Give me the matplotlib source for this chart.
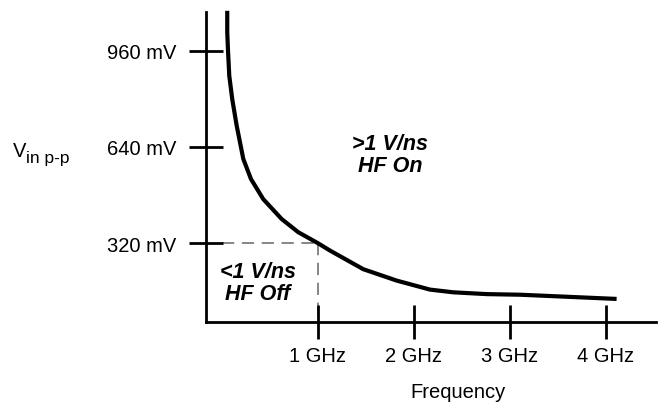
import matplotlib.pyplot as plt
import numpy as np

plt.rcParams['font.family'] = ['Liberation Sans', 'DejaVu Sans']

# curve (GHz, mV)
freq_ghz = [0.059, 0.059, 0.067, 0.080, 0.111, 0.157, 0.226, 0.306, 0.434,
            0.625, 0.798, 1.0, 1.128, 1.474, 1.822, 2.169, 2.411, 2.759,
            3.105, 4.11]
vin_mv = [1093, 1022, 960, 877, 799, 711, 600, 533, 466,
          400, 356, 320, 295, 233, 195, 165, 156, 150,
          148, 134]

x_ticks = [1, 2, 3, 4]
x_labels = ['1 GHz', '2 GHz', '3 GHz', '4 GHz']
y_ticks = [320, 640, 960]
y_labels = ['320 mV', '640 mV', '960 mV']

threshold_f = 1.0
threshold_v = 320

fig = plt.figure(figsize=(6.6, 4.06), dpi=100)
ax = fig.add_axes([206/660, 83/406, 450/660, 310/406])

ax.plot(freq_ghz, vin_mv, color='black', lw=3, solid_capstyle='butt',
        solid_joinstyle='round', clip_on=False, zorder=3)

# dashed guide lines to the threshold point
ax.plot([0, threshold_f], [threshold_v, threshold_v], color='#666666', lw=1.1,
        dashes=(8, 5), zorder=1)
ax.plot([threshold_f, threshold_f], [threshold_v, 57], color='#666666', lw=1.1,
        dashes=(8, 5), zorder=1)

ax.set_xlim(-0.162, 4.52)
ax.set_ylim(57.2, 1089)

for s in ['top', 'right']:
    ax.spines[s].set_visible(False)
for s in ['left', 'bottom']:
    ax.spines[s].set_linewidth(2)

ax.set_xticks(x_ticks)
ax.set_xticklabels(x_labels)
ax.set_yticks(y_ticks)
ax.set_yticklabels(y_labels)
ax.tick_params(direction='inout', length=24, width=2, labelsize=14.5)
ax.tick_params(axis='x', pad=5.5)
ax.tick_params(axis='y', pad=9.5)

ax.text(0.374, 190, '<1 V/ns\nHF Off', ha='center', va='center', fontsize=15.5,
        fontweight='bold', fontstyle='italic', linespacing=1.05)
ax.text(1.75, 616, '>1 V/ns\nHF On', ha='center', va='center', fontsize=15.5,
        fontweight='bold', fontstyle='italic', linespacing=1.05)

fig.text(458/660, 1 - 393/406, 'Frequency', ha='center', va='center', fontsize=14.5)
fig.text(13/660, 1 - 157/406, 'V', ha='left', va='baseline', fontsize=14.5)
fig.text(26/660, 1 - 163/406, 'in p-p', ha='left', va='baseline', fontsize=12.5)

fig.savefig('out.png', dpi=100)
